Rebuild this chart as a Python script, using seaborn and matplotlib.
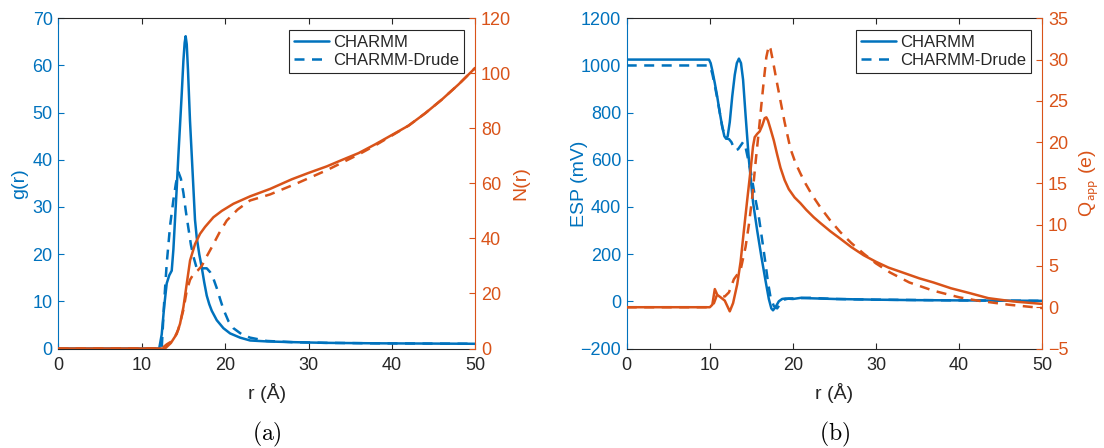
import numpy as np
import pandas as pd
import matplotlib
matplotlib.use("Agg")
import matplotlib.pyplot as plt
import seaborn as sns

# ---------------- data ----------------
# Panel (a): radial distribution g(r) and running number N(r)
r_g_charmm = [0, 12.1, 12.4, 12.7, 13.0, 13.3, 13.6, 13.8, 14.0, 14.2, 14.4, 14.6, 14.8, 15.0,
              15.15, 15.27, 15.4, 15.55, 15.79, 16.0, 16.2, 16.39, 16.6, 16.9, 17.2, 17.5, 17.8,
              18.1, 18.4, 19.0, 19.8, 20.6, 21.8, 23.0, 25, 28, 32, 38, 44, 50]
g_charmm = [0, 0, 3, 9, 13.8, 15.5, 16.5, 21, 27.5, 34, 41, 47.5, 54, 61,
            64.8, 66.2, 64.5, 59, 48.3, 41, 34, 27.3, 23.5, 20, 17.2, 14, 11.2,
            9.4, 8.0, 6.0, 4.3, 3.2, 2.3, 1.7, 1.5, 1.35, 1.2, 1.1, 1.05, 1.0]

r_g_drude = [0, 12.4, 12.7, 13.0, 13.4, 13.8, 14.1, 14.4, 14.7, 15.0, 15.3, 15.6, 15.9, 16.2,
             16.6, 17.0, 17.4, 17.8, 18.2, 18.6, 19.0, 19.4, 19.8, 20.4, 21.0, 22.0, 23.0,
             25, 28, 32, 38, 44, 50]
g_drude = [0, 0, 10, 18, 26, 31.5, 35, 37.4, 36, 33, 29, 25.5, 22, 19.5,
           17, 16.8, 17.0, 17.0, 16.2, 14.8, 12.8, 10.5, 8.3, 5.8, 4.3, 3.0, 2.3,
           1.6, 1.35, 1.2, 1.1, 1.05, 1.0]

r_n_charmm = [0, 12.8, 13.5, 14.2, 14.6, 15.0, 15.4, 15.8, 16.4, 17.0, 17.6, 18.6, 19.6, 21.0,
              23.0, 25.4, 28.0, 30.0, 32.2, 34, 36, 38, 40, 42, 44, 46, 48, 50]
n_charmm = [0, 0, 2, 5.3, 9, 15, 23.5, 32, 38, 41.7, 44.2, 47.7, 50, 52.6,
            55.3, 58, 61.5, 63.8, 66.2, 68.5, 71, 74.2, 77.6, 81, 85.5, 90.5, 96, 102]

r_n_drude = [0, 12.4, 13.0, 13.8, 14.4, 15.0, 15.4, 15.8, 16.2, 16.7, 17.2, 17.8, 18.4, 19.3,
             20.2, 21.5, 23.0, 25.4, 28.6, 32.2, 34, 36, 38, 40, 42, 44, 46, 48, 50]
n_drude = [0, 0, 1.5, 3, 7, 14, 21, 25, 27, 28.3, 30, 33.5, 36.8, 42,
           46.5, 50.5, 53.8, 56, 60, 64.8, 67.5, 70.5, 73.8, 77.4, 81, 85.5, 90.5, 96, 102]

# Panel (b): electrostatic potential and apparent charge
r_esp_charmm = [0, 9.9, 10.1, 10.3, 10.6, 10.9, 11.2, 11.5, 11.75, 11.95, 12.15, 12.4, 12.7,
                13.0, 13.25, 13.5, 13.75, 14.0, 14.3, 14.7, 15.2, 15.7, 16.2, 16.7, 17.1, 17.4,
                17.6, 17.9, 18.3, 18.7, 19.1, 20, 21, 22, 25, 30, 35, 40, 45, 50]
esp_charmm = [1025, 1025, 1010, 979, 925, 866, 800, 739, 700, 690, 700, 760, 870,
              960, 1010, 1029, 1010, 940, 790, 600, 420, 300, 190, 88, 10, -30,
              -38, -25, 0, 10, 12, 10, 15, 13, 10, 7, 5, 4, 3, 2]

r_esp_drude = [0, 9.9, 10.1, 10.3, 10.6, 10.9, 11.2, 11.5, 11.8, 12.0, 12.3, 12.6, 12.9, 13.1,
               13.4, 13.7, 14.0, 14.2, 14.5, 14.9, 15.4, 15.9, 16.3, 16.7, 17.0, 17.3, 17.7,
               18.1, 18.5, 19.0, 19.5, 20.5, 22, 25, 30, 40, 50]
esp_drude = [1000, 1000, 990, 965, 915, 860, 800, 740, 700, 690, 688, 675, 650, 640,
             645, 660, 675, 670, 620, 555, 450, 357, 260, 160, 80, 18, -20,
             -30, -10, 8, 12, 13, 15, 10, 7, 4, 2]

r_q_charmm = [0, 10.0, 10.3, 10.6, 10.9, 11.3, 11.8, 12.4, 12.8, 13.3, 13.7, 14.1, 14.5, 14.9,
              15.2, 15.4, 15.7, 16.0, 16.3, 16.6, 16.8, 17.0, 17.3, 17.7, 18.1, 18.5, 19.0,
              19.5, 20.2, 20.9, 21.6, 22.5, 23.3, 24.5, 25.7, 27.0, 28.5, 30.0, 31.5, 33.5,
              35.2, 36.9, 39, 41.3, 43.5, 46.5, 50]
q_charmm = [0, 0, 0.3, 2.2, 1.5, 1.2, 0.8, -0.5, 0.5, 2.8, 5.5, 9.3, 13, 16.6,
            19.5, 20.6, 21.0, 21.3, 22.0, 22.9, 23.0, 22.6, 21.6, 20.2, 18.5, 16.9, 15.4,
            14.3, 13.3, 12.6, 11.8, 10.9, 10.2, 9.2, 8.3, 7.3, 6.3, 5.5, 4.8, 4.1,
            3.5, 3.0, 2.3, 1.7, 1.1, 0.7, 0.4]

r_q_drude = [0, 10.0, 10.5, 10.9, 11.3, 11.8, 12.3, 12.9, 13.7, 14.3, 14.7, 15.1, 15.5, 15.9,
             16.2, 16.5, 16.8, 17.1, 17.3, 17.6, 18.0, 18.5, 19.0, 19.7, 20.3, 20.9, 21.5,
             22.3, 23.3, 24.5, 25.7, 27, 28.5, 30, 31.7, 34, 36.9, 40, 42.2, 46, 49, 50]
q_drude = [0, 0, 0.5, 1.6, 1.4, 1.3, 1.8, 3.4, 4.5, 7.3, 10, 13.3, 17.5, 21.4,
           24.5, 27.5, 30.3, 31.7, 31.3, 29.8, 27.6, 25.0, 22.4, 19.2, 17.5, 16.2, 15.0,
           13.6, 12.1, 10.5, 9.1, 7.8, 6.5, 5.3, 4.2, 3.0, 2.0, 1.2, 0.8, 0.3, 0.0, -0.1]

series_labels = ["CHARMM", "CHARMM-Drude"]
x_ticks = [0, 10, 20, 30, 40, 50]

# ---------------- styling ----------------
sns.set_style("ticks")
plt.rcParams["font.family"] = ["Liberation Sans", "DejaVu Sans"]
plt.rcParams["mathtext.fontset"] = "cm"

BLUE = "#0072BD"
ORANGE = "#D95319"
DARK = "#262626"
LW = 1.8
FS = 13       # tick labels
FS_LAB = 14   # axis labels
FS_LEG = 12   # legend

W, H = 1104, 448
fig = plt.figure(figsize=(W / 100, H / 100), dpi=100)
Y_TOP, Y_BOT = 18.3, 348.5


def make_axes(x0, x1):
    return fig.add_axes([x0 / W, 1 - Y_BOT / H, (x1 - x0) / W, (Y_BOT - Y_TOP) / H])


def style_pair(ax, axr, x0, x1, ylim, yticks, ylimr, yticksr, ylabel, ylabelr, lx, rx):
    ax.set_xlim(0, 50)
    ax.set_xticks(x_ticks)
    ax.set_ylim(*ylim)
    ax.set_yticks(yticks)
    axr.set_ylim(*ylimr)
    axr.set_yticks(yticksr)
    ax.tick_params(axis="x", direction="in", length=4, width=0.8, colors=DARK,
                   labelsize=FS, top=True, bottom=True, pad=6)
    ax.tick_params(axis="y", direction="in", length=4, width=0.8, colors=BLUE,
                   labelsize=FS, left=True, right=False, pad=4)
    axr.tick_params(axis="y", direction="in", length=4, width=0.8, colors=ORANGE,
                    labelsize=FS, right=True, left=False, pad=4)
    for s in ["top", "bottom"]:
        ax.spines[s].set_color(DARK)
        ax.spines[s].set_linewidth(0.8)
        axr.spines[s].set_visible(False)
    ax.spines["left"].set_color(BLUE)
    ax.spines["left"].set_linewidth(0.8)
    ax.spines["right"].set_visible(False)
    axr.spines["left"].set_visible(False)
    axr.spines["right"].set_visible(True)
    axr.spines["right"].set_color(ORANGE)
    axr.spines["right"].set_linewidth(0.8)
    ax.set_xlabel("r (Å)", fontsize=FS_LAB, color=DARK)
    ax.xaxis.set_label_coords((x0 + x1) / 2 / W, 1 - 393 / H, transform=fig.transFigure)
    ax.xaxis.label.set_va("center")
    ax.set_ylabel(ylabel, fontsize=FS_LAB, color=BLUE)
    axr.set_ylabel(ylabelr, fontsize=FS_LAB, color=ORANGE, rotation=90)
    ymid = 1 - (Y_TOP + Y_BOT) / 2 / H
    ax.yaxis.set_label_coords(lx / W, ymid, transform=fig.transFigure)
    axr.yaxis.set_label_coords(rx / W, ymid, transform=fig.transFigure)
    ax.yaxis.label.set_va("center")
    axr.yaxis.label.set_va("center")


def draw_pair(ax, axr, xa, ya, xb, yb, xc, yc, xd, yd):
    sns.lineplot(x=xa, y=ya, ax=ax, color=BLUE, lw=LW, label=series_labels[0],
                 legend=False, sort=False)
    sns.lineplot(x=xb, y=yb, ax=ax, color=BLUE, lw=LW, label=series_labels[1],
                 legend=False, sort=False, linestyle=(0, (4, 3)))
    sns.lineplot(x=xc, y=yc, ax=axr, color=ORANGE, lw=LW, legend=False, sort=False)
    sns.lineplot(x=xd, y=yd, ax=axr, color=ORANGE, lw=LW, legend=False, sort=False,
                 linestyle=(0, (4, 3)))
    handles = ax.get_lines()[:2]
    leg = axr.legend(handles, series_labels, loc="upper right", fontsize=FS_LEG,
                     frameon=True, fancybox=False, framealpha=1, edgecolor=DARK,
                     borderaxespad=0.7, handlelength=2.1, handletextpad=0.2,
                     borderpad=0.3, labelspacing=0.2)
    leg.get_frame().set_linewidth(0.8)


# Panel (a)
XA0, XA1 = 58.3, 475.3
axa = make_axes(XA0, XA1)
axa_r = axa.twinx()
draw_pair(axa, axa_r, r_g_charmm, g_charmm, r_g_drude, g_drude,
          r_n_charmm, n_charmm, r_n_drude, n_drude)
style_pair(axa, axa_r, XA0, XA1, (0, 70), range(0, 71, 10), (0, 120), range(0, 121, 20),
           "g(r)", "N(r)", 20, 521)

# Panel (b)
XB0, XB1 = 626.7, 1042.3
axb = make_axes(XB0, XB1)
axb_r = axb.twinx()
draw_pair(axb, axb_r, r_esp_charmm, esp_charmm, r_esp_drude, esp_drude,
          r_q_charmm, q_charmm, r_q_drude, q_drude)
style_pair(axb, axb_r, XB0, XB1, (-200, 1200), range(-200, 1201, 200), (-5, 35),
           range(-5, 36, 5), "ESP (mV)", r"Q$_{\mathsf{app}}$ (e)", 579, 1089)

fig.text((XA0 + XA1) / 2 / W, 1 - 434 / H, r"$\mathrm{(a)}$", ha="center", va="center",
         fontsize=17, color="black")
fig.text((XB0 + XB1) / 2 / W, 1 - 434 / H, r"$\mathrm{(b)}$", ha="center", va="center",
         fontsize=17, color="black")

fig.savefig("out.png", dpi=100)
